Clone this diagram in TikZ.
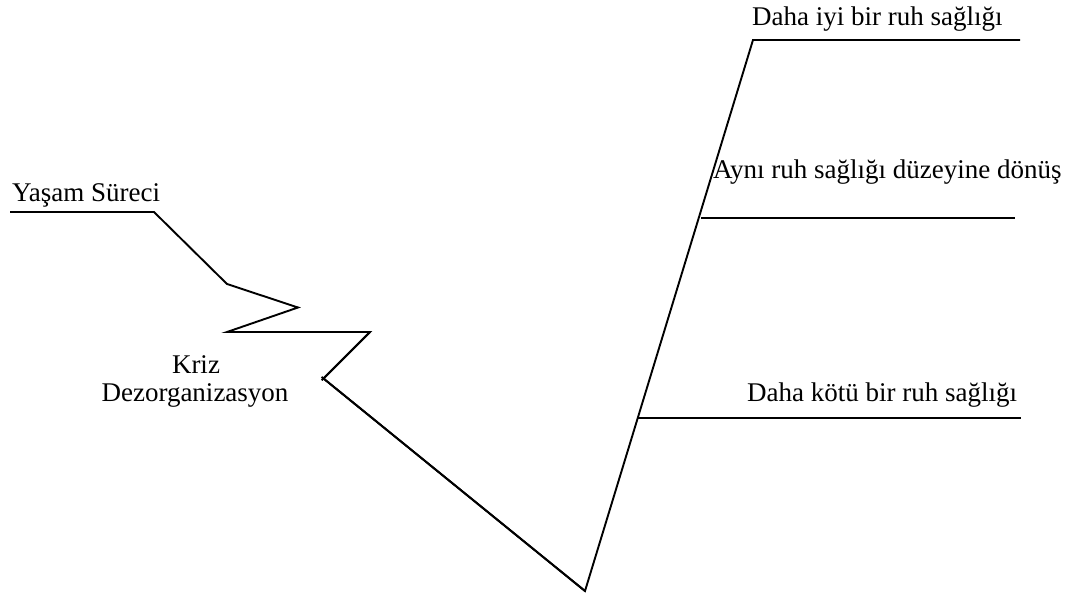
\documentclass[tikz,border=0pt]{standalone}
\usepackage{fontspec}
\setmainfont{Liberation Serif}
\begin{document}
\begin{tikzpicture}[x=1pt,y=-1pt,
  curve/.style={line width=1.9pt,line join=miter},
  lbl/.style={inner sep=0pt,anchor=base west,font=\fontsize{27}{31}\selectfont},
  clbl/.style={inner sep=0pt,anchor=base,font=\fontsize{27}{31}\selectfont}]
\useasboundingbox (0,0) rectangle (1072,596);
% path of the life course
\coordinate (s0) at (10,212);
\coordinate (s1) at (154,212);
\coordinate (s2) at (227,284);
\coordinate (s3) at (298,307.5);
\coordinate (s4) at (227,332);
\coordinate (s5) at (370,332);
\coordinate (v)  at (323.5,378.5);
\coordinate (b)  at (585,591);
\coordinate (t)  at (753,40);
\coordinate (te) at (1020,40);
% outcome branches
\coordinate (m0) at (701,218);
\coordinate (m1) at (1015,218);
\coordinate (w0) at (638,418);
\coordinate (w1) at (1021,418);

\draw[curve] (s0) -- (s1) -- (s2) -- (s3) -- (s4) -- (s5) -- (v);
\draw[curve,shorten >=-2.5pt] (s5) -- (v);
\draw[curve,shorten <=-2.5pt] (v) -- (b);
\draw[curve] (v) -- (b) -- (t) -- (te);
\draw[curve] (m0) -- (m1);
\draw[curve] (w0) -- (w1);

% labels
\node[lbl] (life) at (12,202) {Yaşam Süreci};
\node[clbl] (kriz) at (196,373.5) {Kriz};
\node[clbl] (dez) at (195,402) {Dezorganizasyon};
\node[lbl] (better) at (752,26) {Daha iyi bir ruh sağlığı};
\node[lbl] (same) at (713,178.5) {Aynı ruh sağlığı düzeyine dönüş};
\node[lbl] (worse) at (747,402) {Daha kötü bir ruh sağlığı};
\end{tikzpicture}
\end{document}
